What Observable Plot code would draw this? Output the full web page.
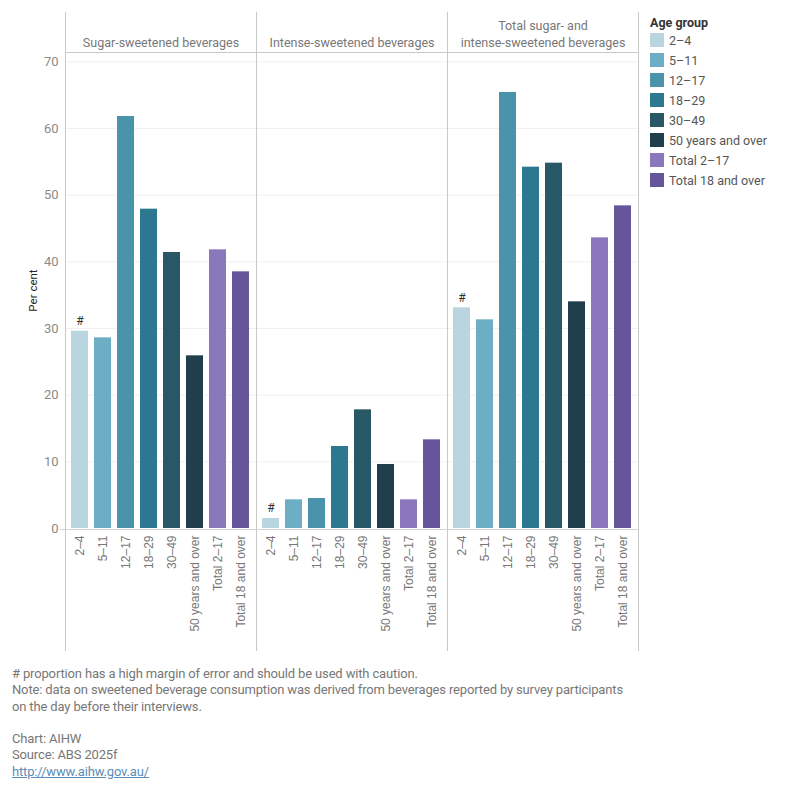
<!DOCTYPE html>
<html>
<head>
<meta charset="utf-8">
<script src="https://cdn.jsdelivr.net/npm/d3@7"></script>
<script src="https://cdn.jsdelivr.net/npm/@observablehq/plot@0.6"></script>
<style>
  body { margin: 0; background: #fff; font-family: Roboto, "Liberation Sans", sans-serif; }
  #wrap { position: relative; width: 800px; }
  #legend { position: absolute; left: 650px; top: 15px; font-family: Roboto, sans-serif; }
  #legend .title { font-size: 12.5px; font-weight: bold; color: #333; margin-bottom: 0px; }
  #legend .row { display: flex; align-items: center; height: 20px; font-size: 12.5px; color: #555; }
  #legend .sw { width: 14px; height: 14px; margin-right: 5px; }
  #foot { padding-left: 12px; margin-top: 6px; font-size: 13px; line-height: 16.3px; color: #777; letter-spacing: -0.15px; }
  #foot a { color: #5b8db8; }
</style>
</head>
<body>
<div id="wrap">
  <div id="chart"></div>
  <div id="legend"></div>
  <div id="foot"></div>
</div>
<script>
const panels = ["Sugar-sweetened beverages", "Intense-sweetened beverages", "Total sugar- and intense-sweetened beverages"];
const panelLabels = ["Sugar-sweetened beverages", "Intense-sweetened beverages", "Total sugar- and\nintense-sweetened beverages"];
const ageGroups = ["2–4", "5–11", "12–17", "18–29", "30–49", "50 years and over", "Total 2–17", "Total 18 and over"];
const sugarValues = [29.6, 28.6, 61.8, 47.9, 41.4, 25.9, 41.8, 38.5];
const intenseValues = [1.5, 4.3, 4.5, 12.3, 17.8, 9.6, 4.3, 13.3];
const totalValues = [33.1, 31.3, 65.4, 54.2, 54.8, 34.0, 43.6, 48.4];
const cautionGroups = ["2–4"];
const ageColors = ["#b9d6e0", "#6daec4", "#4a93ab", "#2c7890", "#285866", "#203e4b", "#8b78bc", "#67559b"];
const yTicks = [0, 10, 20, 30, 40, 50, 60, 70];
const footLines = [
  "# proportion has a high margin of error and should be used with caution.",
  "Note: data on sweetened beverage consumption was derived from beverages reported by survey participants",
  "on the day before their interviews.",
  "",
  "Chart: AIHW",
  "Source: ABS 2025f"
];
const footLink = "http://www.aihw.gov.au/";

const seriesValues = [sugarValues, intenseValues, totalValues];
const data = panels.flatMap((p, i) => ageGroups.map((g, j) => ({
  panel: p, group: g, value: seriesValues[i][j], caution: cautionGroups.includes(g)
})));
const labelOf = new Map(panels.map((p, i) => [p, panelLabels[i]]));

const chart = Plot.plot({
  width: 640,
  height: 660,
  marginLeft: 64,
  marginRight: 1,
  marginTop: 52,
  marginBottom: 132,
  style: { fontFamily: "Roboto, 'Liberation Sans', sans-serif", background: "#fff" },
  fx: { domain: panels, padding: 0, label: null },
  x: { domain: ageGroups, paddingInner: 0.25, paddingOuter: 0.125, label: null },
  y: { domain: [0, 71.4], label: "Per cent" },
  color: { domain: ageGroups, range: ageColors },
  marks: [
    Plot.gridY(yTicks.filter(d => d > 0), { stroke: "#f0f0f0", strokeOpacity: 1 }),
    Plot.frame({ anchor: "left", stroke: "#c8c8c8", insetTop: -40, insetBottom: -122 }),
    Plot.frame({ anchor: "right", stroke: "#c8c8c8", insetTop: -40, insetBottom: -122 }),
    Plot.frame({ anchor: "top", stroke: "#c8c8c8" }),
    Plot.axisFx({ anchor: "top", label: null, tickSize: 0, tickPadding: 6, lineHeight: 1.35,
      tickFormat: d => labelOf.get(d), fontSize: 12.5, fill: "#777" }),
    Plot.axisX({ anchor: "bottom", label: null, tickRotate: -90, tickSize: 0, tickPadding: 7,
      fontSize: 12, fill: "#777", fontFamily: "'Liberation Sans', Arial, sans-serif" }),
    Plot.axisY({ anchor: "left", ticks: yTicks, tickSize: 0, tickPadding: 7, fontSize: 13, fill: "#8a8a8a",
      label: "Per cent", labelAnchor: "center", labelArrow: "none", labelOffset: 37 }),
    Plot.barY(data, { fx: "panel", x: "group", y: "value", fill: "group" }),
    Plot.ruleY([0], { stroke: "#d4d4d4", dy: 1, insetLeft: -5 }),
    Plot.text(data.filter(d => d.caution), { fx: "panel", x: "group", y: "value", text: () => "#",
      dy: -10, fontSize: 12, fill: "#333" })
  ]
});

chart.querySelectorAll("g[aria-label='y-axis label'] text").forEach(t => { t.setAttribute("fill", "#222"); t.setAttribute("font-size", "11.5"); });

document.getElementById("chart").appendChild(chart);

const legend = document.getElementById("legend");
legend.innerHTML = `<div class="title">Age group</div>` + ageGroups.map((g, i) =>
  `<div class="row"><div class="sw" style="background:${ageColors[i]}"></div>${g}</div>`).join("");

const foot = document.getElementById("foot");
foot.innerHTML = footLines.map(l => `<div>${l || "&nbsp;"}</div>`).join("") + `<div><a href="${footLink}">${footLink}</a></div>`;
</script>
</body>
</html>
